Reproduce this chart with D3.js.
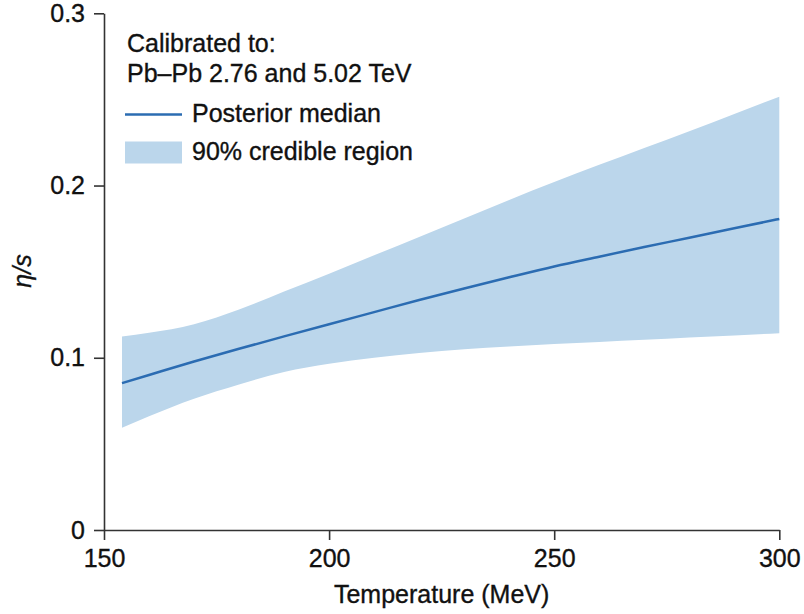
<!DOCTYPE html>
<html>
<head>
<meta charset="utf-8">
<script src="https://cdn.jsdelivr.net/npm/d3@7"></script>
<style>
  body { margin: 0; background: #fff; }
  svg text { font-family: "Liberation Sans", Arial, sans-serif; fill: #111; stroke: #111; stroke-width: 0.35; }
</style>
</head>
<body>
<div id="chart"></div>
<script>
// values
const temperature = [154, 160, 170, 180, 190, 200, 210, 220, 230, 240, 250, 260, 270, 280, 290, 300]
const median = [0.0853, 0.0900, 0.0978, 0.1052, 0.1124, 0.1195, 0.1265, 0.1335, 0.1402, 0.1467, 0.1530, 0.1587, 0.1643, 0.1697, 0.1752, 0.1806]
const upper = [0.1124, 0.1145, 0.1195, 0.1280, 0.1385, 0.1488, 0.1595, 0.1701, 0.1808, 0.1916, 0.2020, 0.2120, 0.2218, 0.2315, 0.2415, 0.2516]
const lower = [0.0594, 0.0660, 0.0762, 0.0845, 0.0918, 0.0965, 0.1000, 0.1028, 0.1050, 0.1066, 0.1080, 0.1092, 0.1104, 0.1117, 0.1130, 0.1142]
const xTicks = [150, 200, 250, 300]
const yTicks = [0, 0.1, 0.2, 0.3]

const w = 804, h = 614
const margin = {top: 13.3, right: 24.7, bottom: 84, left: 104}
const fs = 25

let svg = d3.select('#chart').append('svg').attr('width', w).attr('height', h)

let x = d3.scaleLinear().domain([150, 300]).range([margin.left, w - margin.right])
let y = d3.scaleLinear().domain([0, 0.3]).range([h - margin.bottom, margin.top])

let rows = temperature.map((t, i) => ({t, m: median[i], lo: lower[i], hi: upper[i]}))

let band = d3.area()
  .x(d => x(d.t))
  .y0(d => y(d.lo))
  .y1(d => y(d.hi))
  .curve(d3.curveMonotoneX)

let line = d3.line()
  .x(d => x(d.t))
  .y(d => y(d.m))
  .curve(d3.curveMonotoneX)

svg.append('path').datum(rows).attr('d', band).attr('fill', '#bbd6eb')
svg.append('path').datum(rows).attr('d', line)
  .attr('fill', 'none').attr('stroke', '#2b6cb2').attr('stroke-width', 2.5)

// axes
svg.append('g')
  .attr('transform', `translate(0,${h - margin.bottom})`)
  .call(d3.axisBottom(x).tickValues(xTicks).tickSize(10).tickSizeOuter(0).tickPadding(9))

svg.append('g')
  .attr('transform', `translate(${margin.left},0)`)
  .call(d3.axisLeft(y).tickValues(yTicks).tickSize(10).tickSizeOuter(0).tickPadding(9)
    .tickFormat(d => d === 0 ? '0' : d3.format('.1f')(d)))

svg.selectAll('.domain, .tick line').attr('stroke', '#333').attr('stroke-width', 1.6)
svg.selectAll('.tick text').attr('font-size', fs).attr('fill', '#111')
  .attr('font-family', '"Liberation Sans", Arial, sans-serif')

svg.append('text')
  .attr('x', (x.range()[0] + x.range()[1]) / 2)
  .attr('y', 603)
  .attr('text-anchor', 'middle')
  .attr('font-size', fs)
  .text('Temperature (MeV)')

svg.append('text')
  .attr('transform', 'translate(31,271) rotate(-90)')
  .attr('text-anchor', 'middle')
  .attr('font-size', fs)
  .attr('font-style', 'italic')
  .text('η/s')

// legend
let lg = svg.append('g')
lg.append('text').attr('x', 127).attr('y', 52).attr('font-size', fs).text('Calibrated to:')
lg.append('text').attr('x', 127).attr('y', 81.5).attr('font-size', fs).text('Pb–Pb 2.76 and 5.02 TeV')
lg.append('line').attr('x1', 125).attr('x2', 182).attr('y1', 114.5).attr('y2', 114.5)
  .attr('stroke', '#2b6cb2').attr('stroke-width', 2.5)
lg.append('text').attr('x', 192).attr('y', 121.5).attr('font-size', fs).text('Posterior median')
lg.append('rect').attr('x', 125).attr('y', 141.5).attr('width', 57).attr('height', 22).attr('fill', '#bbd6eb')
lg.append('text').attr('x', 192).attr('y', 160).attr('font-size', fs).text('90% credible region')
</script>
</body>
</html>
